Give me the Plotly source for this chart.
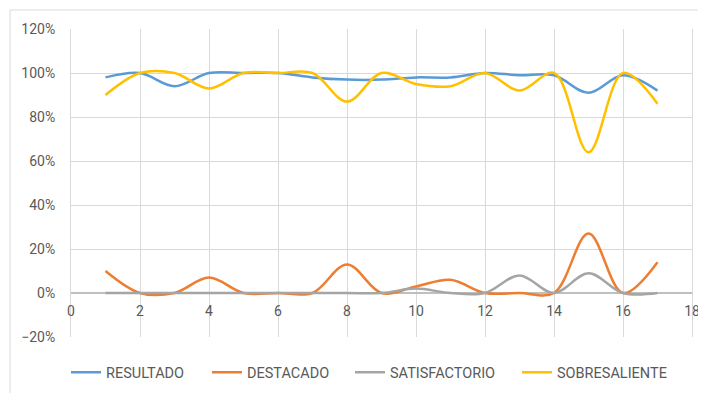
import plotly.graph_objects as go

x_vals = list(range(1, 18))
resultado = [0.98, 1.00, 0.94, 1.00, 1.00, 1.00, 0.98, 0.97, 0.97, 0.98, 0.98, 1.00, 0.99, 0.99, 0.91, 0.99, 0.92]
destacado = [0.10, 0.00, 0.00, 0.07, 0.00, 0.00, 0.00, 0.13, 0.00, 0.03, 0.06, 0.00, 0.00, 0.00, 0.27, 0.00, 0.14]
satisfactorio = [0.00, 0.00, 0.00, 0.00, 0.00, 0.00, 0.00, 0.00, 0.00, 0.02, 0.00, 0.00, 0.08, 0.00, 0.09, 0.00, 0.00]
sobresaliente = [0.90, 1.00, 1.00, 0.93, 1.00, 1.00, 1.00, 0.87, 1.00, 0.95, 0.94, 1.00, 0.92, 1.00, 0.64, 1.00, 0.86]

series = [
    ("RESULTADO", resultado, "#5B9BD5"),
    ("DESTACADO", destacado, "#ED7D31"),
    ("SATISFACTORIO", satisfactorio, "#A5A5A5"),
    ("SOBRESALIENTE", sobresaliente, "#FFC000"),
]
# left edge (page px) of each legend entry's line sample
legend_left_px = [71, 212, 355, 522]

font_family = "Roboto, Liberation Sans, sans-serif"
text_color = "#595959"

# page body has an 8px default margin; size the figure to fill the rest of the window
W, H = 698, 385
ml, mr, mt, mb = 63, 14, 21, 56
pw = W - ml - mr
ph = H - mt - mb
ymin, ymax = -0.2, 1.2
zero_pos = (0 - ymin) / (ymax - ymin)

fig = go.Figure()
legend_layout = {}
for i, (name, vals, color) in enumerate(series):
    lname = "legend" if i == 0 else f"legend{i+1}"
    fig.add_trace(go.Scatter(
        x=x_vals, y=vals, name=name, mode="lines", legend=lname,
        line=dict(color=color, width=2.5, shape="spline", smoothing=1.0),
    ))
    lx = (legend_left_px[i] - 8 - ml - 5) / pw
    legend_layout[lname] = dict(
        orientation="h", x=lx, xanchor="left", y=-0.115, yanchor="middle",
        bgcolor="rgba(0,0,0,0)", borderwidth=0,
        font=dict(size=14.5, color=text_color, family=font_family),
    )

fig.update_layout(
    width=W, height=H,
    margin=dict(l=ml, r=mr, t=mt, b=mb, autoexpand=False),
    paper_bgcolor="white", plot_bgcolor="white",
    font=dict(family=font_family, size=14, color=text_color),
    showlegend=True,
    xaxis=dict(range=[0, 18], dtick=2, tick0=0, showgrid=True, gridcolor="#D9D9D9", gridwidth=1,
               zeroline=False, showline=False, anchor="free", position=zero_pos,
               ticks="outside", ticklen=5, tickcolor="rgba(0,0,0,0)", automargin=False,
               ticklabeloverflow="allow",
               tickfont=dict(size=14, color=text_color)),
    yaxis=dict(range=[ymin, ymax], dtick=0.2, tick0=0, tickformat=".0%", showgrid=True,
               gridcolor="#D9D9D9", gridwidth=1, zeroline=True, zerolinecolor="#BFBFBF",
               zerolinewidth=1.5, showline=True, linecolor="#D9D9D9", linewidth=1,
               mirror=True, automargin=False,
               ticks="outside", ticklen=12, tickcolor="rgba(0,0,0,0)",
               tickfont=dict(size=14, color=text_color)),
    **legend_layout,
)

# chart area border (Excel-like), partly cropped at right/bottom
x0 = (2 - ml) / pw
y1 = (H - mb - 2) / ph
fig.add_shape(type="rect", xref="paper", yref="paper",
              x0=x0, x1=1.2, y0=-0.5, y1=y1,
              line=dict(color="#D9D9D9", width=1), layer="below")

fig.write_html("out.html")
